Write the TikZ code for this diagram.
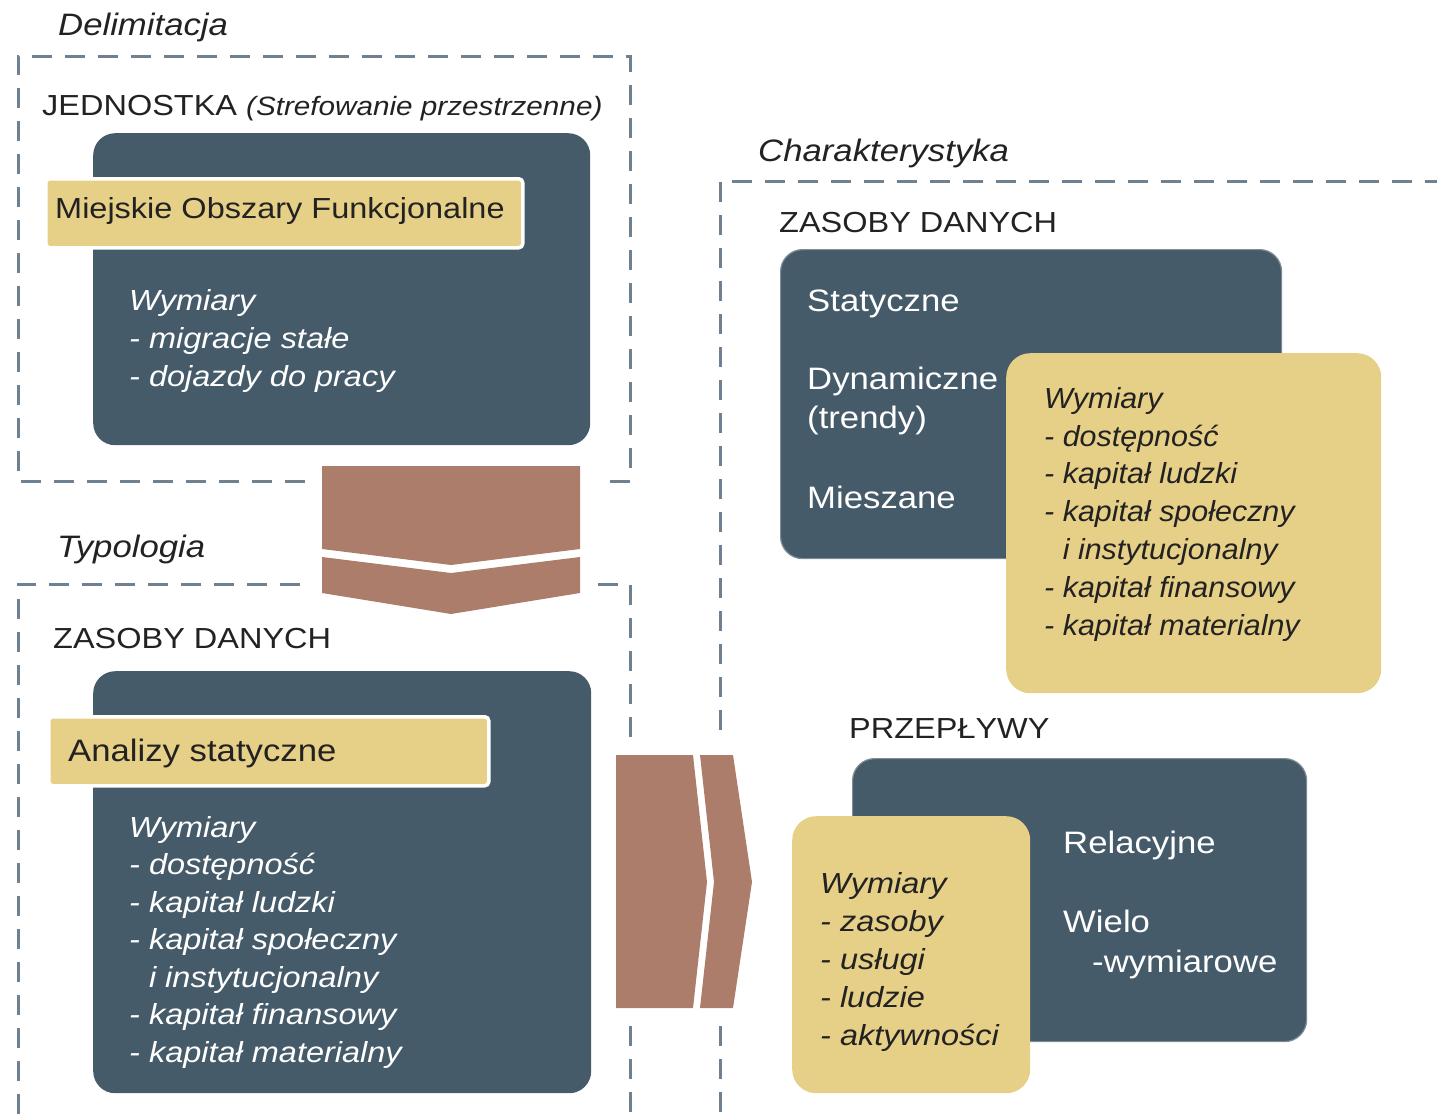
\documentclass[tikz,border=0pt]{standalone}
\usepackage{fontspec}
\setmainfont{Liberation Sans}[FakeStretch=1.12]
\newfontfamily\narrowfont{Liberation Sans}[FakeStretch=1.05]
\definecolor{darkc}{HTML}{465B69}
\definecolor{goldc}{HTML}{E6CF87}
\definecolor{brownc}{HTML}{AD7D6C}
\definecolor{dashc}{HTML}{6F8090}
\definecolor{txtc}{HTML}{222222}
\begin{document}
\begin{tikzpicture}[x=1pt,y=-1pt,
  dashline/.style={draw=dashc, line width=3pt, dash pattern=on 20pt off 13pt},
  darkbox/.style={fill=darkc, rounded corners=22pt, anchor=north west, inner sep=0pt},
  darkboxb/.style={darkbox, draw=darkc!70!white, line width=1.2pt},
  goldbar/.style={fill=goldc, draw=white, line width=3.5pt, rounded corners=4pt, anchor=north west, inner sep=0pt},
  goldpanel/.style={fill=goldc, rounded corners=24pt, anchor=north west, inner sep=0pt},
  arrowpiece/.style={fill=brownc},
  lbl/.style={anchor=base west, inner sep=0pt, text=txtc, font=\fontsize{29}{38}\selectfont},
  ttl/.style={anchor=base west, inner sep=0pt, text=txtc, font=\fontsize{31}{38}\selectfont\itshape},
  wlist/.style={anchor=base west, inner sep=0pt, text=white, align=left, font=\fontsize{29}{38}\selectfont\itshape},
  glist/.style={anchor=base west, inner sep=0pt, text=txtc, align=left, font=\fontsize{29}{38}\selectfont\itshape},
  wtxt/.style={anchor=base west, inner sep=0pt, text=white, align=left, font=\fontsize{31}{39}\selectfont},
]
\useasboundingbox (0,0) rectangle (1437,1119);

% ---------- dashed frames ----------
\draw[dashline] (305,481) -- (18,481) -- (18,56) -- (630,56) -- (630,481) -- (600,481);
\draw[dashline] (300,584) -- (18,584) -- (18,1125);
\draw[dashline] (598,584) -- (630,584) -- (630,737);
\draw[dashline] (630,1026) -- (630,1125);
\draw[dashline] (1445,181) -- (720,181) -- (720,737);
\draw[dashline] (720,1026) -- (720,1125);

% ---------- Delimitacja ----------
\node[ttl] (tdelim) at (58,35) {Delimitacja};
\node[lbl] (tjedn) at (42,115) {JEDNOSTKA \fontsize{26.5}{30}\selectfont\itshape(Strefowanie przestrzenne)};
\node[darkbox, minimum width=497pt, minimum height=312pt] (box1) at (93,133) {};
\node[goldbar, minimum width=477pt, minimum height=69pt] (gold1) at (44,177) {};
\node[lbl, font=\fontsize{29}{38}\selectfont] (tmof) at (55,218) {Miejskie Obszary Funkcjonalne};
% multi-line nodes: base anchor is the baseline of the last line
\node[wlist] (list1) at (129,386) {Wymiary\\- migracje stałe\\- dojazdy do pracy};

% ---------- Typologia ----------
\node[ttl] (ttypo) at (57,557) {Typologia};
\node[lbl] (tzas1) at (53,648) {ZASOBY DANYCH};
\node[darkbox, minimum width=498pt, minimum height=422pt] (box2) at (93,671) {};
\node[goldbar, minimum width=440pt, minimum height=69pt] (gold2) at (47,715) {};
\node[lbl, font=\fontsize{31}{38}\selectfont] (tanal) at (68,761) {Analizy statyczne};
\node[wlist, font=\fontsize{29}{37.5}\selectfont\itshape] (list2) at (129,1062) {Wymiary\\- dostępność\\- kapitał ludzki\\- kapitał społeczny\\\phantom{- }i instytucjonalny\\- kapitał finansowy\\- kapitał materialny};

% ---------- Charakterystyka ----------
\node[ttl] (tchar) at (758,161) {Charakterystyka};
\node[lbl] (tzas2) at (779,232) {ZASOBY DANYCH};
\node[darkboxb, minimum width=501pt, minimum height=309pt] (box3) at (780,249) {};
\node[wtxt] (tstat) at (807,311) {Statyczne};
\node[wtxt] (tdyn) at (807,428) {Dynamiczne\\(trendy)};
\node[wtxt] (tmies) at (807,508) {Mieszane};
\node[goldpanel, minimum width=375pt, minimum height=340pt] (gold3) at (1006,353) {};
\node[glist, font=\fontsize{29}{37.8}\selectfont\narrowfont\itshape] (list3) at (1044,635) {Wymiary\\- dostępność\\- kapitał ludzki\\- kapitał społeczny\\\phantom{- }i instytucjonalny\\- kapitał finansowy\\- kapitał materialny};

\node[lbl] (tprz) at (849,738) {PRZEPŁYWY};
\node[darkboxb, minimum width=454pt, minimum height=283pt] (box4) at (852,758) {};
\node[goldpanel, minimum width=238pt, minimum height=277pt] (gold5) at (792,816) {};
\node[wtxt] (trel) at (1063,853) {Relacyjne};
\node[wtxt, font=\fontsize{31}{40}\selectfont] (twiel) at (1063,972) {Wielo\\\hspace*{29pt}-wymiarowe};
\node[glist] (list5) at (820,1045) {Wymiary\\- zasoby\\- usługi\\- ludzie\\- aktywności};

% ---------- arrows ----------
\fill[arrowpiece] (322,466) -- (580,466) -- (580,549) -- (451,565) -- (322,549) -- cycle;
\fill[arrowpiece] (322,557) -- (451,573) -- (580,557) -- (580,593) -- (451,614) -- (322,593) -- cycle;
\fill[arrowpiece] (616,755) -- (693,755) -- (707,882) -- (693,1008) -- (616,1008) -- cycle;
\fill[arrowpiece] (700,755) -- (733,755) -- (752,882) -- (733,1008) -- (700,1008) -- (714,882) -- cycle;
\end{tikzpicture}
\end{document}
